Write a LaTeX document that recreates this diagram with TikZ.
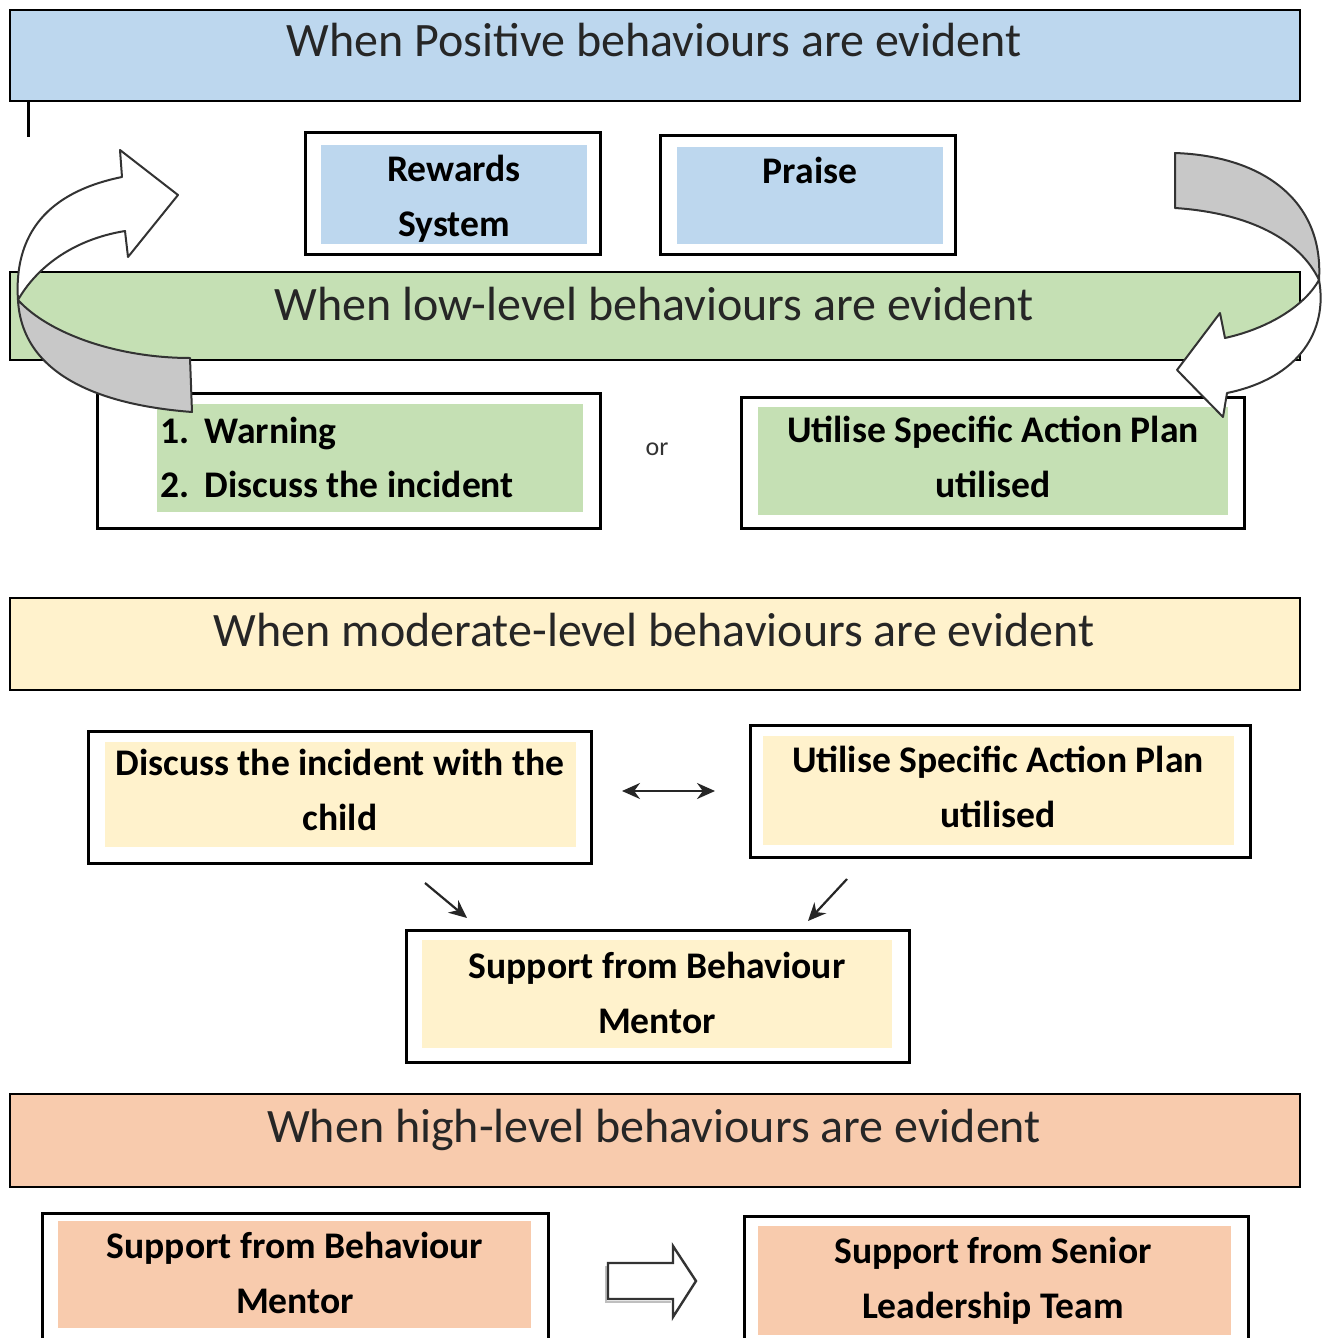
\documentclass[tikz,border=0pt]{standalone}
\usepackage{fontspec}
\setmainfont{Carlito}
\usetikzlibrary{fit,arrows.meta}
\definecolor{cblue}{HTML}{BDD7EE}
\definecolor{cgreen}{HTML}{C5E0B4}
\definecolor{cyellow}{HTML}{FFF2CC}
\definecolor{corange}{HTML}{F8CBAD}
\definecolor{cgrey}{HTML}{C8C8C8}
\begin{document}
\begin{tikzpicture}[x=0.5pt,y=-0.5pt,
  hdr/.style={draw=black,line width=1.2pt,inner sep=0pt},
  obox/.style={draw=black,line width=1.5pt,inner sep=0pt},
  ibox/.style={draw=none,inner sep=0pt},
  htext/.style={anchor=base,inner sep=0pt,text=black!85,font=\fontsize{24}{28}\selectfont},
  btext/.style={anchor=base,inner sep=0pt,text=black,font=\fontsize{18.8}{22}\selectfont\bfseries},
  ltext/.style={btext,anchor=base west},
  arrowline/.style={draw=black!80,line width=1pt,line join=round},
  conn/.style={draw=black!85,line width=1.1pt,-{Stealth[length=9pt,width=8pt]}}]
\clip (0,0) rectangle (1330,1338);
\fill[white] (0,0) rectangle (1330,1338);

% headers
\node[hdr,fill=cblue,fit={(10,10)(1300,101)}] (h1) {};
\node[htext] (h1t) at (654,57) {When Positive behaviours are evident};
\node[hdr,fill=cgreen,fit={(10,272)(1300,360)}] (h2) {};
\node[htext] (h2t) at (654,320) {When low-level behaviours are evident};
\node[hdr,fill=cyellow,fit={(10,598)(1300,690)}] (h3) {};
\node[htext] (h3t) at (654,646) {When moderate-level behaviours are evident};
\node[hdr,fill=corange,fit={(10,1094)(1300,1187)}] (h4) {};
\node[htext] (h4t) at (654,1142) {When high-level behaviours are evident};

\draw[line width=1.5pt] (28,101) -- (28,137);

% positive
\node[obox,fit={(305,133)(600,254)}] (rew) {};
\node[ibox,fill=cblue,fit={(321,145)(587,244)}] (rewin) {};
\node[btext] (rew1) at (454,181) {Rewards};
\node[btext] (rew2) at (454,236) {System};
\node[obox,fit={(660,136)(955,254)}] (pra) {};
\node[ibox,fill=cblue,fit={(677,147)(943,244)}] (prain) {};
\node[btext] (pra1) at (810,184) {Praise};

% low level
\node[obox,fit={(97,393)(600,528)}] (warn) {};
\node[ibox,fill=cgreen,fit={(157,404)(583,512)}] (warnin) {};
\node[ltext] (w1n) at (160,443) {1.};
\node[ltext] (w1) at (204,443) {Warning};
\node[ltext] (w2n) at (160,497) {2.};
\node[ltext] (w2) at (204,497) {Discuss the incident};
\node[anchor=base,inner sep=0pt,text=black!80,font=\fontsize{13}{15}\selectfont] (or) at (657,455) {or};
\node[obox,fit={(741,397)(1244,528)}] (usp) {};
\node[ibox,fill=cgreen,fit={(758,407)(1228,515)}] (uspin) {};
\node[btext] (usp1) at (993,442) {Utilise Specific Action Plan};
\node[btext] (usp2) at (993,497) {utilised};

% moderate
\node[obox,fit={(88,731)(591,863)}] (disc) {};
\node[ibox,fill=cyellow,fit={(105,742)(576,847)}] (discin) {};
\node[btext] (disc1) at (340,775) {Discuss the incident with the};
\node[btext] (disc2) at (340,830) {child};
\node[obox,fit={(750,725)(1250,857)}] (usm) {};
\node[ibox,fill=cyellow,fit={(763,736)(1234,845)}] (usmin) {};
\node[btext] (usm1) at (998,772) {Utilise Specific Action Plan};
\node[btext] (usm2) at (998,827) {utilised};
\node[obox,fit={(406,930)(909,1062)}] (sbm) {};
\node[ibox,fill=cyellow,fit={(422,940)(892,1048)}] (sbmin) {};
\node[btext] (sbm1) at (657,978) {Support from Behaviour};
\node[btext] (sbm2) at (657,1033) {Mentor};

\coordinate (da1) at (622,791);
\coordinate (da2) at (715,791);
\draw[conn,{Stealth[length=9pt,width=8pt]}-{Stealth[length=9pt,width=8pt]}] (da1) -- (da2);
\coordinate (d1a) at (425,883);
\coordinate (d1b) at (467,918);
\draw[conn] (d1a) -- (d1b);
\coordinate (d2a) at (847,879);
\coordinate (d2b) at (808,921);
\draw[conn] (d2a) -- (d2b);

% high level
\node[obox,fit={(42,1213)(548,1360)}] (hbm) {};
\node[ibox,fill=corange,fit={(58,1221)(531,1328)}] (hbmin) {};
\node[btext] (hbm1) at (295,1258) {Support from Behaviour};
\node[btext] (hbm2) at (295,1313) {Mentor};
\node[obox,fit={(744,1216)(1248,1360)}] (slt) {};
\node[ibox,fill=corange,fit={(758,1226)(1231,1335)}] (sltin) {};
\node[btext] (slt1) at (993,1263) {Support from Senior};
\node[btext] (slt2) at (993,1318) {Leadership Team};

\draw[black!25,line width=1.2pt] (606,1266) -- (606,1302) -- (671,1302);
\filldraw[fill=white,draw=black!80,line width=1.2pt,line join=miter]
  (608,1263) -- (673,1263) -- (673,1246) -- (696,1281) -- (673,1317) -- (673,1299) -- (608,1299) -- cycle;

% curved arrows
\filldraw[arrowline,fill=white] (122,177) .. controls (58,190) and (13,225) .. (18,300)
  .. controls (35,270) and (70,240) .. (125,231) -- (128,257) -- (178,195) -- (120,150) -- cycle;
\filldraw[arrowline,fill=cgrey] (18,300) .. controls (50,335) and (120,358) .. (190,358)
  -- (192,412) .. controls (100,405) and (22,375) .. (18,300) -- cycle;
\filldraw[arrowline,fill=cgrey] (1175,153) .. controls (1262,156) and (1324,200) .. (1319,280)
  .. controls (1300,240) and (1250,213) .. (1175,208) -- cycle;
\filldraw[arrowline,fill=white] (1225,338) .. controls (1270,328) and (1305,305) .. (1319,280)
  .. controls (1328,330) and (1300,378) .. (1227,393) -- (1223,417) -- (1177,370) -- (1220,313) -- cycle;
\end{tikzpicture}
\end{document}
